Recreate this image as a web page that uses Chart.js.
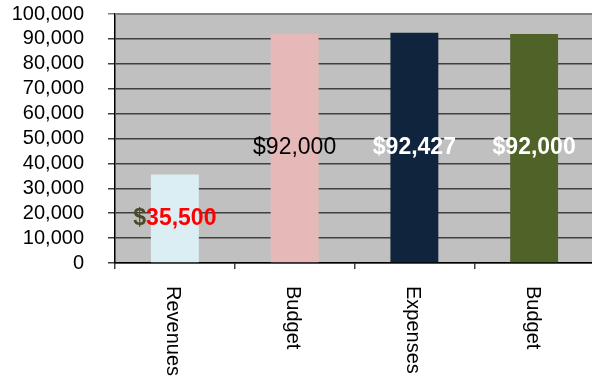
<!DOCTYPE html>
<html>
<head>
<meta charset="utf-8">
<script src="https://cdn.jsdelivr.net/npm/chart.js@4/dist/chart.umd.min.js"></script>
<style>
  html, body { margin: 0; padding: 0; background: #fff; overflow: hidden; }
  #wrap { width: 594px; height: 409px; position: absolute; left: 0; top: -22px; }
</style>
</head>
<body>
<div id="wrap"><canvas id="c"></canvas></div>
<script>
// Budget vs. actuals
const categories = ['Revenues', 'Budget', 'Expenses', 'Budget'];
const amounts = [35500, 92000, 92427, 92000];
const barColors = ['#daeef3', '#e6b9b8', '#10243e', '#4f6228'];
const yTicks = [0, 10000, 20000, 30000, 40000, 50000, 60000, 70000, 80000, 90000, 100000];

const FONT = '"Liberation Sans", Arial, sans-serif';
const money = v => '$' + v.toLocaleString('en-US');

// Per-bar label styling: [dollar-sign colour, number colour, bold]
const labelStyles = [
  ['#4a4a2a', '#ff0000', true],
  ['#000000', '#000000', false],
  ['#ffffff', '#ffffff', true],
  ['#ffffff', '#ffffff', true]
];

const plotBackground = {
  id: 'plotBackground',
  beforeDraw(chart) {
    const { ctx, chartArea: a } = chart;
    ctx.save();
    ctx.fillStyle = '#c0c0c0';
    ctx.fillRect(a.left, a.top, a.right - a.left, a.bottom - a.top);
    ctx.restore();
  }
};

const valueLabels = {
  id: 'valueLabels',
  afterDatasetsDraw(chart) {
    const { ctx } = chart;
    const meta = chart.getDatasetMeta(0);
    ctx.save();
    meta.data.forEach((bar, i) => {
      const v = chart.data.datasets[0].data[i];
      const [c1, c2, bold] = labelStyles[i];
      ctx.font = (bold ? 'bold ' : '') + '23px ' + FONT;
      ctx.textBaseline = 'middle';
      ctx.textAlign = 'left';
      const full = money(v);
      const w = ctx.measureText(full).width;
      const sign = '$';
      const sw = ctx.measureText(sign).width;
      const x0 = bar.x - w / 2;
      const y = (bar.y + bar.base) / 2;
      ctx.fillStyle = c1;
      ctx.fillText(sign, x0, y);
      ctx.fillStyle = c2;
      ctx.fillText(full.slice(1), x0 + sw, y);
    });
    ctx.restore();
  }
};

const rotatedCategoryLabels = {
  id: 'rotatedCategoryLabels',
  afterDraw(chart) {
    const { ctx, chartArea: a } = chart;
    const xs = chart.scales.x;
    ctx.save();
    // top border of the plot area
    ctx.strokeStyle = '#808080';
    ctx.lineWidth = 2;
    ctx.beginPath();
    ctx.moveTo(a.left, a.top);
    ctx.lineTo(a.right, a.top);
    ctx.stroke();
    ctx.font = '20px ' + FONT;
    ctx.fillStyle = '#000';
    ctx.textAlign = 'left';
    ctx.textBaseline = 'middle';
    categories.forEach((lab, i) => {
      const x = xs.getPixelForTick(i) - 2;
      ctx.save();
      ctx.translate(x, a.bottom + 23);
      ctx.rotate(Math.PI / 2);
      ctx.fillText(lab, 0, 0);
      ctx.restore();
    });
    ctx.restore();
  }
};

new Chart(document.getElementById('c'), {
  type: 'bar',
  data: {
    labels: categories,
    datasets: [{
      data: amounts,
      backgroundColor: barColors,
      borderWidth: 0,
      barPercentage: 0.4,
      categoryPercentage: 1.0
    }]
  },
  options: {
    responsive: true,
    maintainAspectRatio: false,
    animation: false,
    layout: { padding: { left: 10, top: 0, right: 0, bottom: 0 } },
    plugins: { legend: { display: false }, tooltip: { enabled: false } },
    scales: {
      x: {
        grid: {
          offset: true,
          drawOnChartArea: false,
          drawTicks: true,
          tickLength: 6,
          color: '#404040',
          lineWidth: 1.5
        },
        border: { color: '#000', width: 1.5 },
        ticks: { color: 'rgba(0,0,0,0)', maxRotation: 0, minRotation: 0 },
        afterFit(s) { s.height = 124; }
      },
      y: {
        min: 0,
        max: 100000,
        afterBuildTicks(s) { s.ticks = yTicks.map(v => ({ value: v })); },
        grid: {
          color: ctx => (ctx.tick && ctx.tick.value === 100000) ? '#808080' : '#404040',
          lineWidth: 1.5,
          tickLength: 7
        },
        border: { color: '#000', width: 1.5 },
        ticks: {
          autoSkip: false,
          font: { family: FONT, size: 20 },
          color: '#000',
          padding: 24,
          callback: v => v.toLocaleString('en-US')
        },
        afterFit(s) { s.width = 105; }
      }
    }
  },
  plugins: [plotBackground, valueLabels, rotatedCategoryLabels]
});
</script>
</body>
</html>
